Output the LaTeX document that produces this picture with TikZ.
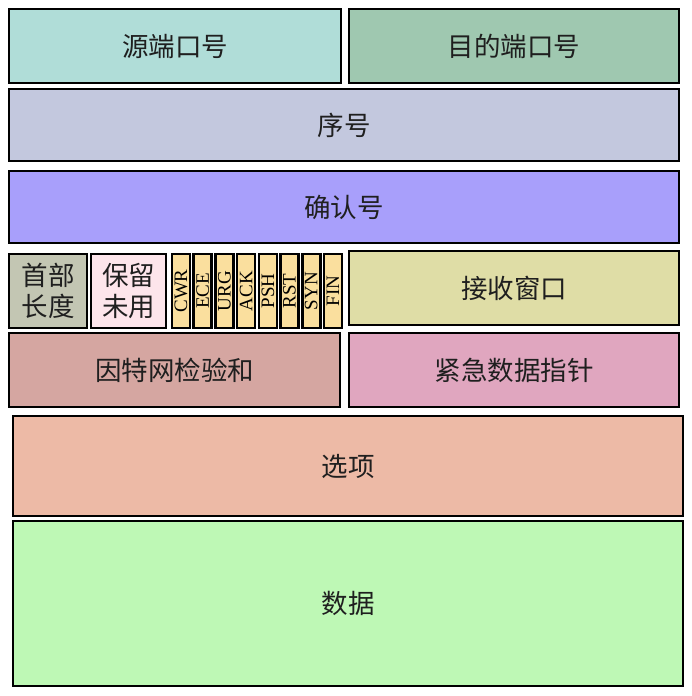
\documentclass[tikz,border=0pt]{standalone}
\usepackage{fontspec}
\newfontfamily\cjk{Noto Sans CJK SC}
\newfontfamily\ser{Liberation Serif}
\definecolor{cSrc}{HTML}{B0DDD8}
\definecolor{cDst}{HTML}{9FC8B0}
\definecolor{cSeq}{HTML}{C3C8DE}
\definecolor{cAck}{HTML}{A89FFB}
\definecolor{cHlen}{HTML}{C3C6B3}
\definecolor{cRsv}{HTML}{FDE5EB}
\definecolor{cFlag}{HTML}{FADF9E}
\definecolor{cWin}{HTML}{DFDDA6}
\definecolor{cCks}{HTML}{D5A6A1}
\definecolor{cUrg}{HTML}{E0A6BF}
\definecolor{cOpt}{HTML}{EDBAA6}
\definecolor{cData}{HTML}{BEF8B5}
\tikzset{
  field/.style={draw=black, line width=2.6pt, inner sep=0pt, outer sep=0pt,
    align=center, font=\cjk\fontsize{26.5}{31}\selectfont, text=black!88},
  flagbox/.style={draw=black, line width=2.6pt, inner sep=0pt, outer sep=0pt,
    fill=cFlag, minimum width=18pt, minimum height=74pt},
  flagtext/.style={rotate=90, inner sep=0pt, font=\ser\fontsize{19}{19}\selectfont}
}
\begin{document}
\begin{tikzpicture}[x=1pt, y=-1pt]
\useasboundingbox (0,0) rectangle (691,696);
\node[field, fill=cSrc, minimum width=332pt, minimum height=74pt] (src) at (175,46) {源端口号};
\node[field, fill=cDst, minimum width=330pt, minimum height=74pt] (dst) at (514,46) {目的端口号};
\node[field, fill=cSeq, minimum width=670pt, minimum height=72pt] (seq) at (344,125) {序号};
\node[field, fill=cAck, minimum width=670pt, minimum height=72pt] (ack) at (344,207) {确认号};
\node[field, fill=cHlen, minimum width=78pt, minimum height=74pt] (hlen) at (48,291) {首部\\长度};
\node[field, fill=cRsv, minimum width=75pt, minimum height=74pt] (rsv) at (128.5,291) {保留\\未用};
\foreach \n [count=\i from 0] in {CWR,ECE,URG,ACK,PSH,RST,SYN,FIN}{
  \node[flagbox] (f\n) at ({181+21.7*\i},291) {};
  \node[flagtext] (t\n) at ({181+21.7*\i},291) {\n};
}
\node[field, fill=cWin, minimum width=330pt, minimum height=74pt] (win) at (514,288) {接收窗口};
\node[field, fill=cCks, minimum width=331pt, minimum height=74pt] (cks) at (174.5,370) {因特网检验和};
\node[field, fill=cUrg, minimum width=330pt, minimum height=74pt] (urg) at (514,370) {紧急数据指针};
\node[field, fill=cOpt, minimum width=670pt, minimum height=100pt] (opt) at (348,466) {选项};
\node[field, fill=cData, minimum width=670pt, minimum height=165pt] (data) at (348,603.5) {数据};
\end{tikzpicture}
\end{document}
